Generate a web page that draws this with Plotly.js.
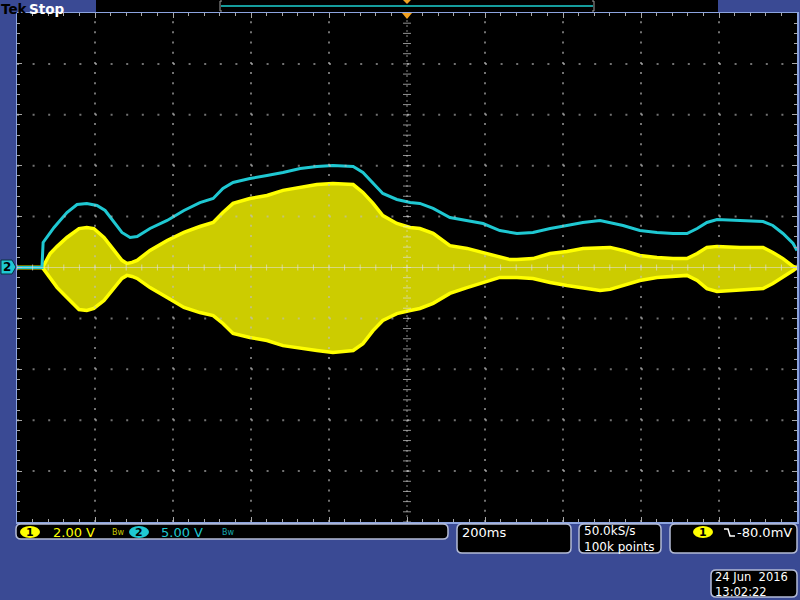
<!DOCTYPE html>
<html>
<head>
<meta charset="utf-8">
<script src="https://cdn.plot.ly/plotly-3.0.1.min.js"></script>
<style>html,body{margin:0;padding:0;background:#3A4A94;}#chart{width:800px;height:600px;}</style>
</head>
<body>
<div id="chart"></div>
<script>
// ---- Data ----
// Channel 1 (2.00 V/div): envelope of the AM signal, time in ms
const ch1TimeMs = [-1000,-936,-933,-915,-897,-872,-841,-821,-803,-777,-751,-731,-718,-705,-692,-659,-615,-572,-531,-497,-472,-446,-403,-359,-318,-274,-231,-190,-138,-113,-87,-62,-26,8,33,67,110,154,195,238,264,282,323,367,410,451,495,521,554,597,641,682,718,744,769,795,854,913,938,964,990,1000];
const ch1UpperV = [0,0,0.04,0.55,0.83,1.18,1.53,1.57,1.53,1.18,0.67,0.28,0.16,0.20,0.28,0.67,1.06,1.38,1.61,1.77,2.16,2.52,2.71,2.83,3.03,3.14,3.26,3.30,3.26,2.95,2.52,2.04,1.73,1.57,1.53,1.34,0.86,0.75,0.59,0.39,0.31,0.31,0.35,0.55,0.63,0.75,0.79,0.79,0.67,0.47,0.39,0.35,0.35,0.55,0.79,0.83,0.79,0.79,0.59,0.35,0.04,0];
const ch1LowerV = [0,0,-0.04,-0.43,-0.79,-1.18,-1.65,-1.69,-1.61,-1.30,-0.79,-0.43,-0.31,-0.35,-0.43,-0.79,-1.18,-1.57,-1.77,-1.89,-2.20,-2.59,-2.75,-2.87,-3.07,-3.18,-3.26,-3.34,-3.26,-2.99,-2.48,-2.08,-1.81,-1.69,-1.61,-1.41,-1.02,-0.79,-0.59,-0.39,-0.39,-0.39,-0.43,-0.59,-0.71,-0.79,-0.90,-0.86,-0.71,-0.51,-0.39,-0.35,-0.31,-0.51,-0.83,-0.94,-0.90,-0.83,-0.63,-0.39,-0.12,0];
// Channel 2 (5.00 V/div)
const ch2TimeMs = [-1000,-936,-933,-905,-872,-846,-821,-795,-774,-751,-731,-710,-692,-659,-615,-572,-531,-497,-472,-446,-403,-359,-318,-274,-231,-190,-138,-113,-87,-62,-26,8,33,67,110,154,195,238,282,323,367,410,451,495,521,554,597,641,682,718,744,769,795,854,913,938,964,990,1000];
const ch2V = [0,0,2.46,3.93,5.40,6.19,6.29,6.09,5.60,4.42,3.44,2.95,3.04,3.83,4.62,5.60,6.38,6.78,7.76,8.35,8.74,9.04,9.33,9.72,9.92,10.02,9.92,9.33,8.25,7.27,6.68,6.38,6.29,5.80,4.91,4.62,4.32,3.63,3.34,3.44,3.83,4.13,4.42,4.62,4.42,4.13,3.63,3.44,3.34,3.34,3.83,4.42,4.72,4.62,4.52,4.13,3.34,2.36,1.67];
const ch1VoltsPerDiv = 2.0;
const ch2VoltsPerDiv = 5.0;
const timePerDivMs = 200;
// Readout texts
const ch1Label = "2.00 V";
const ch2Label = "5.00 V";
const timebaseLabel = "200ms";
const sampleRateLabel = "50.0kS/s";
const recordLabel = "100k points";
const triggerLabel = "-80.0mV";
const dateLabel = "24 Jun\u00A0\u00A02016";
const timeLabel = "13:02:22";

// ---- Layout helpers (pixel -> paper) ----
const L = 17, R = 797, T = 13, B = 522;
const px = x => (x - L) / (R - L);
const py = y => (B - y) / (B - T);

const YEL = '#FFFF00', YELFILL = '#CCCC00', CYAN = '#1FC8D2', BLUE = '#3A4A94';

const traces = [
  {x: ch1TimeMs, y: ch1LowerV.map(v => v / ch1VoltsPerDiv), mode: 'lines',
   line: {color: YEL, width: 3.5}, hoverinfo: 'skip'},
  {x: ch1TimeMs, y: ch1UpperV.map(v => v / ch1VoltsPerDiv), mode: 'lines', fill: 'tonexty',
   fillcolor: YELFILL, line: {color: YEL, width: 3.5}, hoverinfo: 'skip'},
  {x: ch2TimeMs, y: ch2V.map(v => v / ch2VoltsPerDiv), mode: 'lines',
   line: {color: CYAN, width: 3}, hoverinfo: 'skip'}
];

const shapes = [];
const gridCol = 'rgba(190,190,190,0.6)';
// dotted graticule
for (let i = -4; i <= 4; i++) {
  if (i === 0) continue;
  shapes.push({type: 'line', xref: 'x', yref: 'paper', x0: i * timePerDivMs, x1: i * timePerDivMs, y0: 0, y1: 1,
    line: {color: gridCol, width: 2, dash: '2px,8.18px'}, layer: 'above'});
  shapes.push({type: 'line', xref: 'paper', yref: 'y', x0: 0, x1: 1, y0: i, y1: i,
    line: {color: gridCol, width: 2, dash: '2px,13.6px'}, layer: 'above'});
}
// center cross
shapes.push({type: 'line', xref: 'paper', yref: 'y', x0: 0, x1: 1, y0: 0, y1: 0,
  line: {color: 'rgba(225,225,225,0.55)', width: 1}, layer: 'above'});
shapes.push({type: 'line', xref: 'x', yref: 'paper', x0: 0, x1: 0, y0: 0, y1: 1,
  line: {color: 'rgba(225,225,225,0.6)', width: 1, dash: '2px,3px'}, layer: 'above'});
for (let k = -25; k <= 25; k++) {
  const t = k * timePerDivMs / 5;
  shapes.push({type: 'line', xref: 'x', yref: 'y', x0: t, x1: t, ysizemode: 'pixel', yanchor: 0, y0: -3, y1: 3,
    line: {color: 'rgba(225,225,225,0.65)', width: 1}, layer: 'above'});
  const d = k / 5;
  shapes.push({type: 'line', xref: 'x', yref: 'y', y0: d, y1: d, xsizemode: 'pixel', xanchor: 0, x0: -4, x1: 4,
    line: {color: 'rgba(225,225,225,0.65)', width: 1}, layer: 'above'});
}

// rounded box path
function rbox(x0, y0, x1, y1, r) {
  const P = (x, y) => px(x) + ',' + py(y);
  return 'M' + P(x0 + r, y0) + ' L' + P(x1 - r, y0) + ' Q' + P(x1, y0) + ' ' + P(x1, y0 + r) +
    ' L' + P(x1, y1 - r) + ' Q' + P(x1, y1) + ' ' + P(x1 - r, y1) +
    ' L' + P(x0 + r, y1) + ' Q' + P(x0, y1) + ' ' + P(x0, y1 - r) +
    ' L' + P(x0, y0 + r) + ' Q' + P(x0, y0) + ' ' + P(x0 + r, y0) + ' Z';
}
const boxLine = {color: '#B4BCD6', width: 1.5};
[[16, 524, 448, 539], [457, 524, 571, 553], [579, 524, 661, 553], [670, 524, 797, 553], [711, 570, 797, 597]]
  .forEach(b => shapes.push({type: 'path', xref: 'paper', yref: 'paper', path: rbox(b[0], b[1], b[2], b[3], 5),
    fillcolor: '#000000', line: boxLine, layer: 'above'}));

// top record bar
shapes.push({type: 'rect', xref: 'paper', yref: 'paper', x0: px(96), x1: px(718), y0: py(0), y1: py(12),
  fillcolor: '#000000', line: {width: 0}, layer: 'above'});
shapes.push({type: 'line', xref: 'paper', yref: 'paper', x0: px(221), x1: px(593), y0: py(6), y1: py(6),
  line: {color: '#159C9C', width: 2}, layer: 'above'});
shapes.push({type: 'path', xref: 'paper', yref: 'paper',
  path: 'M' + px(222) + ',' + py(1) + ' L' + px(220) + ',' + py(1) + ' L' + px(220) + ',' + py(11) + ' L' + px(222) + ',' + py(11),
  line: {color: '#A0A0A0', width: 1}, layer: 'above'});
shapes.push({type: 'path', xref: 'paper', yref: 'paper',
  path: 'M' + px(592) + ',' + py(1) + ' L' + px(594) + ',' + py(1) + ' L' + px(594) + ',' + py(11) + ' L' + px(592) + ',' + py(11),
  line: {color: '#A0A0A0', width: 1}, layer: 'above'});
// trigger position markers (orange)
shapes.push({type: 'path', xref: 'paper', yref: 'paper',
  path: 'M' + px(403) + ',' + py(0) + ' L' + px(411) + ',' + py(0) + ' L' + px(407) + ',' + py(4) + ' Z',
  fillcolor: '#F0A020', line: {width: 0}, layer: 'above'});
shapes.push({type: 'path', xref: 'paper', yref: 'paper',
  path: 'M' + px(402) + ',' + py(13) + ' L' + px(412) + ',' + py(13) + ' L' + px(407) + ',' + py(19) + ' Z',
  fillcolor: '#F0A020', line: {width: 0}, layer: 'above'});
// channel 2 ground marker
shapes.push({type: 'path', xref: 'paper', yref: 'paper',
  path: 'M' + px(1) + ',' + py(260) + ' L' + px(12) + ',' + py(260) + ' L' + px(16) + ',' + py(267) + ' L' + px(12) + ',' + py(274) + ' L' + px(1) + ',' + py(274) + ' Z',
  fillcolor: CYAN, line: {color: '#0A3040', width: 1}, layer: 'above'});
// channel badges
[[20, 40, YEL], [129, 149, CYAN], [693, 713, YEL]].forEach(c =>
  shapes.push({type: 'circle', xref: 'paper', yref: 'paper', x0: px(c[0]), x1: px(c[1]), y0: py(526), y1: py(538),
    fillcolor: c[2], line: {width: 0}, layer: 'above'}));
// falling edge symbol
shapes.push({type: 'path', xref: 'paper', yref: 'paper',
  path: 'M' + px(724) + ',' + py(529) + ' L' + px(728) + ',' + py(529) + ' L' + px(730) + ',' + py(536) + ' L' + px(735) + ',' + py(536),
  line: {color: '#FFFFFF', width: 1.5}, layer: 'above'});

const F = 'DejaVu Sans, sans-serif';
function ann(text, x, y, color, size, anchor, weight, yanchor) {
  return {text: text, xref: 'paper', yref: 'paper', x: px(x), y: py(y), xanchor: anchor || 'left', yanchor: yanchor || 'middle',
    align: 'left', showarrow: false, font: {family: F, size: size || 13, color: color, weight: weight || 'normal'}, borderpad: 0};
}
const annotations = [
  ann('Tek', 0, 0, '#000000', 13.5, 'left', 'bold', 'top'),
  ann('Stop', 28, 0, '#FFFFFF', 13.5, 'left', 'bold', 'top'),
  ann('2', 7, 267, '#000000', 12, 'center', 'bold'),
  ann('1', 30, 532, '#000000', 11, 'center', 'bold'),
  ann(ch1Label, 52, 532, YEL, 13),
  ann('Bw', 111, 532, '#C8C800', 8),
  ann('2', 139, 532, '#000000', 11, 'center', 'bold'),
  ann(ch2Label, 160, 532, CYAN, 13),
  ann('Bw', 221, 532, '#17A8B0', 8),
  ann(timebaseLabel, 461, 532, '#FFFFFF', 13),
  ann(sampleRateLabel + '<br>' + recordLabel, 583, 538.5, '#FFFFFF', 12, 'left', 'normal', 'middle'),
  ann('1', 703, 532, '#000000', 11, 'center', 'bold'),
  ann(triggerLabel, 793, 532, '#FFFFFF', 13, 'right'),
  ann(dateLabel + '<br>' + timeLabel, 714, 584.5, '#FFFFFF', 11.5, 'left', 'normal', 'middle')
];

const axisCommon = {showgrid: false, zeroline: false, showticklabels: false, showline: true,
  linecolor: '#8CA4E0', linewidth: 1.5, mirror: 'allticks', ticks: 'inside', ticklen: 5,
  tickcolor: '#A8A8A8', tickwidth: 1, fixedrange: true};

const layout = {
  width: 800, height: 600,
  margin: {l: L, r: 800 - R, t: T, b: 600 - B, pad: 0},
  paper_bgcolor: BLUE, plot_bgcolor: '#000000',
  showlegend: false,
  xaxis: Object.assign({}, axisCommon, {range: [-5 * timePerDivMs, 5 * timePerDivMs], dtick: timePerDivMs, tick0: 0,
    minor: {dtick: timePerDivMs / 5, ticks: 'inside', ticklen: 3, tickcolor: '#A8A8A8', showgrid: false}}),
  yaxis: Object.assign({}, axisCommon, {range: [-5, 5], dtick: 1, tick0: 0,
    minor: {dtick: 0.2, ticks: 'inside', ticklen: 3, tickcolor: '#A8A8A8', showgrid: false}}),
  shapes: shapes,
  annotations: annotations
};

Plotly.newPlot('chart', traces, layout, {staticPlot: true, displayModeBar: false});
</script>
</body>
</html>
